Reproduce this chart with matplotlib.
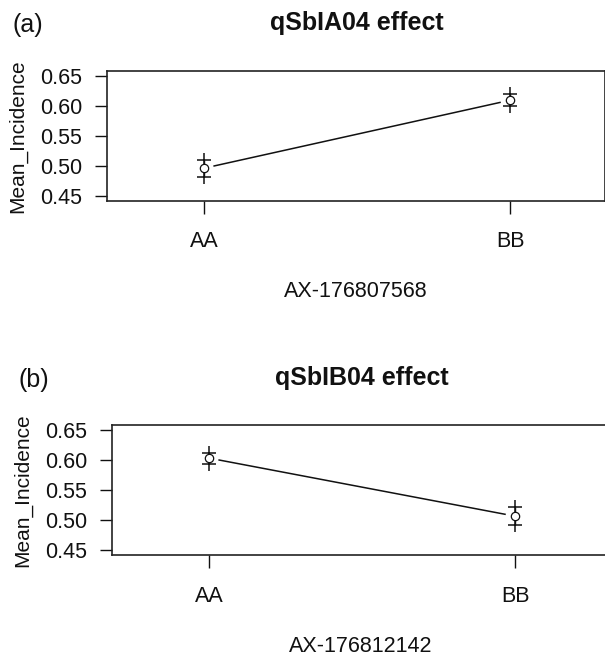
import matplotlib
matplotlib.use("Agg")
import matplotlib.pyplot as plt
import numpy as np

plt.rcParams['font.family'] = ['Liberation Sans', 'DejaVu Sans']

# data
genotypes = ["AA", "BB"]
yticks = [0.45, 0.50, 0.55, 0.60, 0.65]

qtl_a_mean = [0.496, 0.609]
qtl_a_se = [0.0144, 0.0098]
qtl_b_mean = [0.603, 0.5065]
qtl_b_se = [0.0092, 0.0152]

panels = [
    ("(a)", "qSbIA04 effect", "AX-176807568", qtl_a_mean, qtl_a_se),
    ("(b)", "qSbIB04 effect", "AX-176812142", qtl_b_mean, qtl_b_se),
]

W, H = 605, 657
fig = plt.figure(figsize=(W / 100, H / 100), dpi=100)

# pixel layout: (axes left, axes top) for each panel
origins = [(107, 70.7), (112, 425.0)]
ax_w, ax_h = 498, 130
xlim = (0.683, 2.31)
ylim = (0.442, 0.658)
gap = 0.033  # gap between the connecting line and the points
ink = "#111111"

for (tag, title, marker_name, means, ses), (left, top) in zip(panels, origins):
    ax = fig.add_axes([left / W, 1 - (top + ax_h) / H, ax_w / W, ax_h / H])
    x = np.arange(1, len(genotypes) + 1)
    means = np.asarray(means)
    ses = np.asarray(ses)

    # connecting line, like R type="b" with gaps round the points
    slope = (means[1] - means[0]) / (x[1] - x[0])
    ax.plot([x[0] + gap, x[1] - gap],
            [means[0] + slope * gap, means[1] - slope * gap],
            color=ink, lw=1.1)

    # error bars: vertical segment with crosses at mean +/- se
    ax.vlines(x, means - ses, means + ses, color=ink, lw=1.0)
    ax.plot(x, means + ses, ls="none", marker="+", ms=10, mew=1.1, color=ink)
    ax.plot(x, means - ses, ls="none", marker="+", ms=10, mew=1.1, color=ink)
    ax.plot(x, means, ls="none", marker="o", ms=6, mfc="white", mec=ink, mew=0.9)

    ax.set_xlim(*xlim)
    ax.set_ylim(*ylim)
    ax.set_xticks(x, genotypes)
    ax.set_yticks(yticks, [f"{v:.2f}" for v in yticks])
    ax.tick_params(axis="both", direction="out", length=9, width=1.0,
                   labelsize=15.5, colors=ink)
    ax.tick_params(axis="y", pad=9)
    ax.tick_params(axis="x", pad=13)
    for s in ax.spines.values():
        s.set_linewidth(1.2)
        s.set_color("#222222")

    ax.set_ylabel("Mean_Incidence", fontsize=15, color=ink, va="center")
    ax.yaxis.set_label_coords(-(107 - 18) / ax_w, 0.5)
    ax.set_xlabel(marker_name, fontsize=15.5, color=ink, va="center")
    ax.xaxis.set_label_coords(0.5, -91 / ax_h)

    fig.text((left - 94) / W, 1 - (top - 38.5) / H, tag,
             fontsize=18, ha="left", va="baseline", color=ink)
    fig.text((left + 250) / W, 1 - (top - 40.5) / H, title,
             fontsize=18, fontweight="bold", ha="center", va="baseline", color=ink)

fig.savefig("out.png", dpi=100)
